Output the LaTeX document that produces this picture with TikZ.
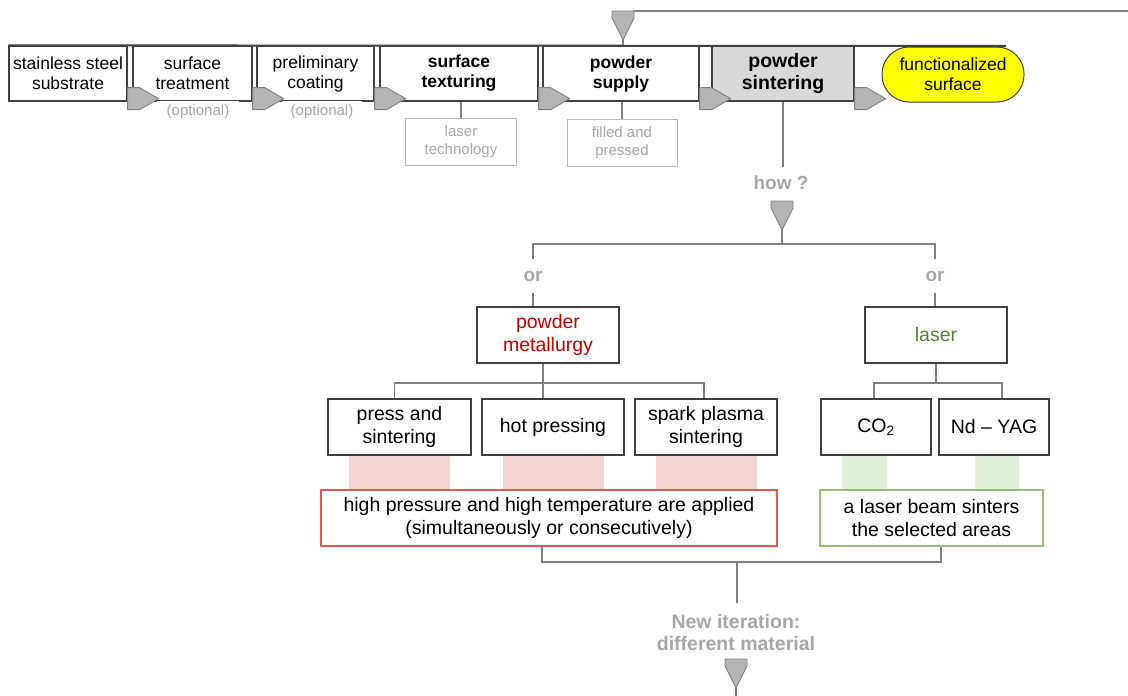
\documentclass[tikz,border=0pt]{standalone}
\usepackage{fontspec}
\setmainfont{Liberation Sans}
\usepackage{tikz}
\usetikzlibrary{positioning,calc}
\definecolor{boxgray}{RGB}{64,64,64}
\definecolor{linegray}{RGB}{128,128,128}
\definecolor{textgray}{RGB}{166,166,166}
\definecolor{tipgray}{RGB}{180,180,180}
\definecolor{sinterfill}{RGB}{217,217,217}
\definecolor{pmred}{RGB}{192,0,0}
\definecolor{bandred}{RGB}{244,211,211}
\definecolor{edgered}{RGB}{222,88,88}
\definecolor{lasergreen}{RGB}{84,130,53}
\definecolor{bandgreen}{RGB}{226,239,218}
\definecolor{edgegreen}{RGB}{150,190,120}
\definecolor{sunyellow}{RGB}{255,255,0}
\tikzset{
  tipshape/.style={draw=linegray,fill=tipgray,line width=0.9pt,line join=round},
  flowarrow/.pic={\draw[tipshape] (0,-14) -- (12,-14) -- (31,-3) -- (12,8) -- (0,8) -- cycle;},
  droptip/.pic={\draw[tipshape] (-11,-29) -- (11,-29) -- (11,-22) -- (0,0) -- (-11,-22) -- cycle;}
}

\begin{document}
\begin{tikzpicture}[
  x=1pt,y=-1pt,
  stepbox/.style={draw=boxgray,line width=1.3pt,fill=white,inner sep=0pt,align=center,
    minimum height=55pt,font=\fontsize{17.5}{20}\selectfont},
  keystep/.style={stepbox,font=\fontsize{17.5}{20}\selectfont\bfseries},
  sinterstep/.style={stepbox,fill=sinterfill,font=\fontsize{19.5}{23}\selectfont\bfseries},
  goal/.style={draw=boxgray,line width=1pt,fill=sunyellow,rounded corners=27pt,inner sep=0pt,
    align=center,minimum height=55pt,minimum width=142pt,font=\fontsize{17.5}{20}\selectfont},
  optnote/.style={fill=white,inner sep=0pt,text=textgray,minimum height=22pt,
    font=\fontsize{15}{18}\selectfont},
  subbox/.style={draw=textgray!80,line width=0.9pt,inner sep=0pt,align=center,text=textgray,
    minimum height=47pt,font=\fontsize{15}{18}\selectfont},
  grayhead/.style={inner sep=0pt,align=center,text=textgray,
    font=\fontsize{19}{22}\selectfont\bfseries},
  methodbox/.style={draw=boxgray,line width=1.2pt,inner sep=0pt,align=center,
    minimum height=56pt,font=\fontsize{19.5}{23}\selectfont},
  redband/.style={fill=bandred,inner sep=0pt,minimum width=101pt,minimum height=35pt},
  greenband/.style={fill=bandgreen,inner sep=0pt,minimum height=33pt},
  link/.style={draw=linegray,line width=1.1pt},
  spine/.style={draw=boxgray,line width=2pt}
]
\useasboundingbox (0,0) rectangle (1128,696);

% process chain
\node[stepbox,minimum width=118pt] (b1) at (68,73.5) {stainless steel\\substrate};
\node[stepbox,minimum width=119pt] (b2) at (192.5,73.5) {surface\\treatment};
\node[stepbox,minimum width=117pt] (b3) at (315.5,73.5) {preliminary\\coating};
\node[keystep,minimum width=158pt] (b4) at (459,73.5) {surface\\texturing};
\node[keystep,minimum width=156pt] (b5) at (621,73.5) {powder\\supply};
\node[sinterstep,minimum width=142pt] (b6) at (783,73.5) {powder\\sintering};
\node[goal] (b7) at (953,74.5) {functionalized\\surface};

\coordinate (spineend) at (1006,46);
\draw[spine] (b1.north west) -- (spineend);

\node[optnote,minimum width=82pt] (o2) at (198,112) {(optional)};
\node[optnote,minimum width=80pt] (o3) at (322,112) {(optional)};

\pic at (b1.south east) {flowarrow};
\pic at (b2.south east) {flowarrow};
\pic at (b3.south east) {flowarrow};
\pic at (b4.south east) {flowarrow};
\pic at (b5.south east) {flowarrow};
\pic at (b6.south east) {flowarrow};

\node[subbox,minimum width=111pt] (t4) at (461,141.5) {laser\\technology};
\node[subbox,minimum width=110pt] (t5) at (622,142.5) {filled and\\pressed};
\draw[link] (t4.north |- b4.south) -- (t4.north);
\draw[link] (t5.north |- b5.south) -- (t5.north);

% feedback from the next iteration
\coordinate (fbtip) at (623,40);
\coordinate (fbend) at (1128,11);
\draw[link] (fbtip) -- (fbtip |- b5.north);
\draw[link] ($(fbtip)+(11,-29)$) -- (fbend);
\pic at (fbtip) {droptip};

% how ?
\node[grayhead,minimum height=32pt] (how) at (781,183) {how ?};
\draw[link] (b6.south) -- (b6.south |- how.north);
\coordinate (howtip) at (782,230);
\coordinate (split) at (782,244);
\draw[link] (howtip) -- (split);
\pic at (howtip) {droptip};

\node[grayhead,minimum height=34pt] (or1) at (533,276) {or};
\node[grayhead,minimum height=34pt] (or2) at (935,276) {or};
\draw[link] (or1.north) |- (split) -| (or2.north);

\node[methodbox,minimum width=142pt,text=pmred] (pm) at (548,335) {powder\\metallurgy};
\node[methodbox,minimum width=142pt,text=lasergreen] (laser) at (936,335) {laser};
\draw[link] (or1.south) -- (or1.south |- pm.north);
\draw[link] (or2.south) -- (or2.south |- laser.north);

% powder metallurgy routes
\node[methodbox,minimum width=143pt] (ps) at (399.5,427) {press and\\sintering};
\node[methodbox,minimum width=142pt] (hp) at (553,427) {hot pressing};
\node[methodbox,minimum width=142pt] (sp) at (706,427) {spark plasma\\sintering};
\coordinate (pmsplit) at (543,383);
\draw[link] (pmsplit |- pm.south) -- (pmsplit |- hp.north);
\draw[link] ([xshift=-5pt]ps.north) |- (pmsplit) -| ([xshift=-2pt]sp.north);

\node[redband,below=0pt of ps] (psband) {};
\node[redband,below=0pt of hp] (hpband) {};
\node[redband,below=0pt of sp] (spband) {};
\node[methodbox,draw=edgered,minimum width=456pt] (rb) at (549,518)
  {high pressure and high temperature are applied\\(simultaneously or consecutively)};

% laser routes
\node[methodbox,minimum width=110pt] (co2) at (876,427) {CO\textsubscript{2}};
\node[methodbox,minimum width=110pt] (nd) at (994,427) {Nd -- YAG};
\coordinate (lzsplit) at (936,383);
\draw[link] (laser.south) -- (lzsplit);
\draw[link] ([xshift=-2pt]co2.north) |- (lzsplit) -| ([xshift=8pt]nd.north);

\node[greenband,minimum width=45pt,below=0pt of co2,xshift=-11.5pt] (co2band) {};
\node[greenband,minimum width=44pt,below=0pt of nd,xshift=3pt] (ndband) {};
\node[methodbox,draw=edgegreen,minimum width=223pt] (gb) at (931.5,518)
  {a laser beam sinters\\the selected areas};

% next iteration
\coordinate (merge) at (737,562);
\draw[link] ([xshift=-7pt]rb.south) |- (merge) -| ([xshift=9.5pt]gb.south);
\node[grayhead,minimum height=60pt,font=\fontsize{19.5}{22}\selectfont\bfseries] (newit) at (736,633)
  {New iteration:\\different material};
\draw[link] (merge) -- (merge |- newit.north);
\coordinate (looptip) at (736,688);
\coordinate (loopend) at (736,696);
\draw[link] (looptip) -- (loopend);
\pic at (looptip) {droptip};

\end{tikzpicture}
\end{document}
